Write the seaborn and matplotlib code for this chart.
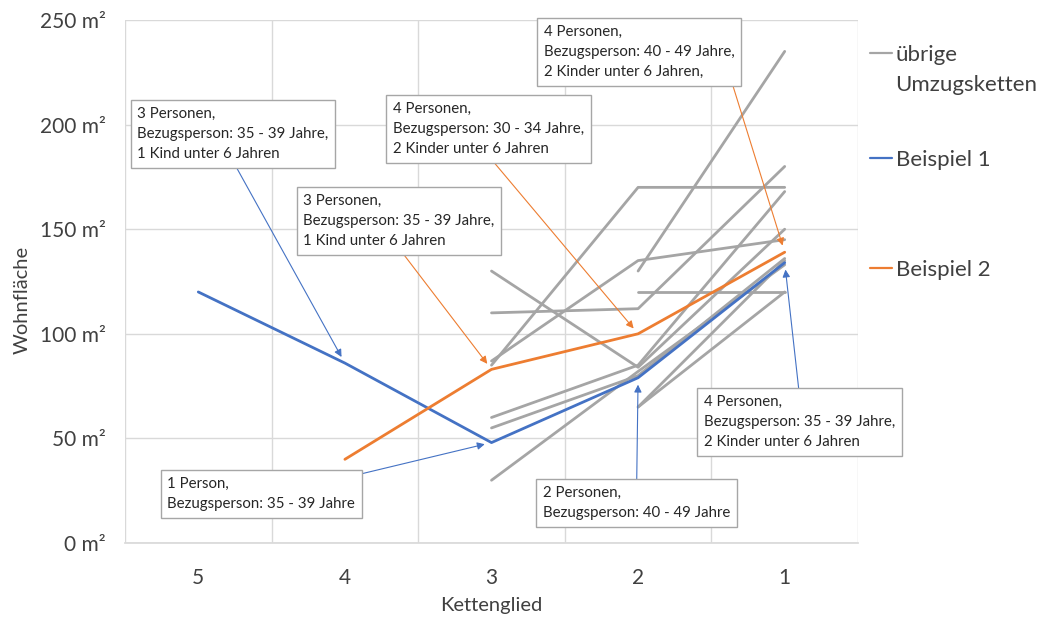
import numpy as np
import pandas as pd
import matplotlib
matplotlib.use("Agg")
import matplotlib.pyplot as plt
from matplotlib.lines import Line2D
import seaborn as sns

# Kettenglieder (5 = erstes Glied der Umzugskette, 1 = letztes)
glieder = [5, 4, 3, 2, 1]

# Beispiel 1: Wohnfläche je Kettenglied 5..1
beispiel1_glieder = [5, 4, 3, 2, 1]
beispiel1_flaeche = [120, 86, 48, 79, 134]

# Beispiel 2: Wohnfläche je Kettenglied 4..1
beispiel2_glieder = [4, 3, 2, 1]
beispiel2_flaeche = [40, 83, 100, 139]

# übrige Umzugsketten, die bei Glied 3 beginnen (Werte für Glied 3, 2, 1)
ketten_ab_3 = [
    [130, 84, 150],
    [110, 112, 180],
    [85, 170, 170],
    [87, 135, 145],
    [60, 85, 168],
    [55, 80, 136],
    [30, 82, 133],
]
# übrige Umzugsketten, die bei Glied 2 beginnen (Werte für Glied 2, 1)
ketten_ab_2 = [
    [130, 235],
    [120, 120],
    [65, 120],
    [65, 135],
]

y_ticks = [0, 50, 100, 150, 200, 250]

# Beschriftungen: (Text, Beispiel, Kettenglied)
beschriftungen = [
    ("3 Personen,\nBezugsperson: 35 - 39 Jahre,\n1 Kind unter 6 Jahren", 1, 4),
    ("4 Personen,\nBezugsperson: 30 - 34 Jahre,\n2 Kinder unter 6 Jahren", 2, 2),
    ("3 Personen,\nBezugsperson: 35 - 39 Jahre,\n1 Kind unter 6 Jahren", 2, 3),
    ("4 Personen,\nBezugsperson: 40 - 49 Jahre,\n2 Kinder unter 6 Jahren,", 2, 1),
    ("1 Person,\nBezugsperson: 35 - 39 Jahre", 1, 3),
    ("2 Personen,\nBezugsperson: 40 - 49 Jahre", 1, 2),
    ("4 Personen,\nBezugsperson: 35 - 39 Jahre,\n2 Kinder unter 6 Jahren", 1, 1),
]
# Lage der Textfelder (linke obere Textecke in Datenkoordinaten) und Pfeilansatz am Feld
feld_lage = [
    ((5.416, 208.4), (0.5, 0.0)),
    ((3.671, 210.8), (0.5, 0.0)),
    ((4.284, 166.8), (0.5, 0.0)),
    ((2.642, 247.5), (0.98, 0.0)),
    ((5.211, 31.5), (0.96, 1.0)),
    ((2.649, 27.2), (0.5, 1.0)),
    ((1.552, 70.7), (0.5, 1.0)),
]

GRAU = "#a5a5a5"
BLAU = "#4472c4"
ORANGE = "#ed7d31"
TEXT = "#404040"

# Long-Form-Tabellen aufbauen
zeilen = []
for i, werte in enumerate(ketten_ab_3):
    for g, w in zip([3, 2, 1], werte):
        zeilen.append({"kette": f"a{i}", "glied": g, "flaeche": w})
for i, werte in enumerate(ketten_ab_2):
    for g, w in zip([2, 1], werte):
        zeilen.append({"kette": f"b{i}", "glied": g, "flaeche": w})
df_uebrig = pd.DataFrame(zeilen)
df_b1 = pd.DataFrame({"glied": beispiel1_glieder, "flaeche": beispiel1_flaeche})
df_b2 = pd.DataFrame({"glied": beispiel2_glieder, "flaeche": beispiel2_flaeche})

sns.set_theme(style="white")
plt.rcParams["font.family"] = ["Lato", "DejaVu Sans"]

fig = plt.figure(figsize=(10.38, 6.19), dpi=100)
ax = fig.add_axes([125 / 1038, 76 / 619, 733 / 1038, 523 / 619])

sns.lineplot(data=df_uebrig, x="glied", y="flaeche", units="kette", estimator=None,
             color=GRAU, linewidth=2, ax=ax, legend=False, sort=False)
sns.lineplot(data=df_b1, x="glied", y="flaeche", color=BLAU, linewidth=2,
             ax=ax, legend=False, sort=False)
sns.lineplot(data=df_b2, x="glied", y="flaeche", color=ORANGE, linewidth=2,
             ax=ax, legend=False, sort=False)

ax.set_xlim(5.5, 0.5)
ax.set_ylim(0, 250)
ax.set_xticks(glieder)
ax.set_xticklabels([str(g) for g in glieder])
ax.set_xticks([g + 0.5 for g in glieder] + [0.5], minor=True)
ax.set_yticks(y_ticks)
ax.set_yticklabels([f"{v} m²" for v in y_ticks])
ax.grid(axis="y", which="major", color="#d9d9d9", linewidth=1)
ax.grid(axis="x", which="minor", color="#d9d9d9", linewidth=1)
ax.grid(axis="x", which="major", visible=False)
ax.tick_params(axis="both", which="both", length=0, labelsize=15, labelcolor=TEXT)
ax.tick_params(axis="x", pad=18)
ax.tick_params(axis="y", pad=14)
for s in ["top", "right", "left"]:
    ax.spines[s].set_visible(False)
ax.spines["bottom"].set_color("#d9d9d9")
ax.set_xlabel("Kettenglied", fontsize=14.5, color=TEXT)
ax.set_ylabel("Wohnfläche", fontsize=14.5, color=TEXT)
ax.xaxis.set_label_coords(0.5, -0.104)
ax.yaxis.set_label_coords(-0.129, 0.465)

# Beschriftungen mit Pfeilen auf die Kettenglieder der Beispiele
reihen = {1: (beispiel1_glieder, beispiel1_flaeche, BLAU),
          2: (beispiel2_glieder, beispiel2_flaeche, ORANGE)}
for (text, bsp, glied), ((tx, ty), relpos) in zip(beschriftungen, feld_lage):
    gl, fl, farbe = reihen[bsp]
    wert = fl[gl.index(glied)]
    ax.annotate(text, xy=(glied, wert), xycoords="data", xytext=(tx, ty),
                textcoords="data", ha="left", va="top", fontsize=10.8,
                color="#262626", linespacing=1.55, annotation_clip=False,
                bbox=dict(boxstyle="square,pad=0.45", fc="white", ec="#a6a6a6", lw=1),
                arrowprops=dict(arrowstyle="-|>", color=farbe, lw=0.8,
                                mutation_scale=11, shrinkA=0, shrinkB=5,
                                relpos=relpos),
                zorder=5)

# Legende rechts neben dem Diagramm, je Eintrag eigens platziert
legende = [("übrige", GRAU, 55), ("Beispiel 1", BLAU, 160), ("Beispiel 2", ORANGE, 270)]
for label, farbe, y_px in legende:
    leg = fig.legend([Line2D([0], [0], color=farbe, lw=1.6)], [label],
                     loc="center left", bbox_to_anchor=(870 / 1038, 1 - y_px / 619),
                     frameon=False, fontsize=16, handlelength=1.0,
                     handletextpad=0.15, borderpad=0, borderaxespad=0,
                     labelcolor=TEXT)
fig.text(895 / 1038, 1 - 85 / 619, "Umzugsketten", fontsize=16, color=TEXT,
         ha="left", va="center")

fig.savefig("out.png", dpi=100)
